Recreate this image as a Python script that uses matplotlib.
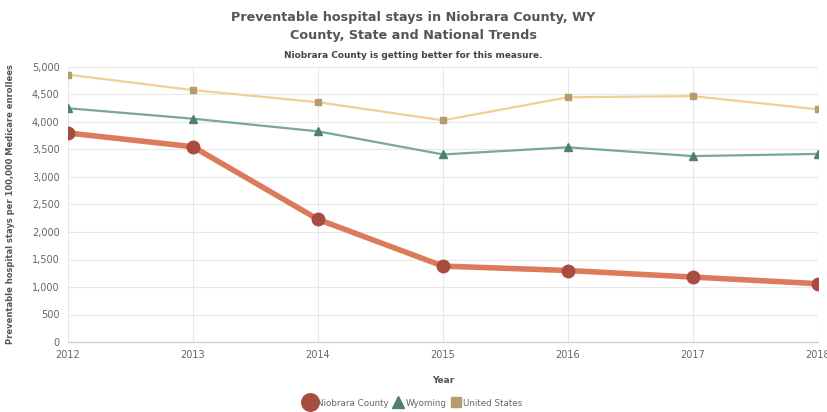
import matplotlib.pyplot as plt
from matplotlib.ticker import FuncFormatter

years = [2012, 2013, 2014, 2015, 2016, 2017, 2018]
niobrara = [3800, 3550, 2230, 1380, 1300, 1180, 1060]
wyoming = [4250, 4060, 3830, 3410, 3540, 3380, 3420]
united_states = [4860, 4580, 4360, 4030, 4450, 4470, 4230]

fig = plt.figure(figsize=(8.27, 4.12), dpi=100)
ax = fig.add_axes([68 / 827, 1 - 342 / 412, 750 / 827, 275 / 412])

ax.plot(years, united_states, color="#f3cf96", lw=1.6, marker="s", ms=5,
        mfc="#b59c6e", mec="#b59c6e", label="United States", zorder=3)
ax.plot(years, wyoming, color="#79a893", lw=1.6, marker="^", ms=6,
        mfc="#4f8068", mec="#4f8068", label="Wyoming", zorder=3)
ax.plot(years, niobrara, color="#dc7a5c", lw=4, marker="o", ms=9,
        mfc="#a84c3f", mec="#a84c3f", label="Niobrara County", zorder=4)

ax.set_xlim(2012, 2018)
ax.set_ylim(0, 5000)
ax.set_xticks(years)
ax.set_yticks(range(0, 5001, 500))
ax.yaxis.set_major_formatter(FuncFormatter(lambda v, p: f"{int(v):,}"))
ax.grid(True, color="#e8e8e8", lw=0.8)
for s in ["top", "right", "left"]:
    ax.spines[s].set_visible(False)
ax.spines["bottom"].set_color("#cccccc")
ax.tick_params(length=0, labelsize=7, colors="#666666", pad=6)
ax.set_axisbelow(True)

ax.set_ylabel("Preventable hospital stays per 100,000 Medicare enrollees",
              fontsize=6, color="#555555", fontweight="bold", labelpad=12)
ax.set_xlabel("Year", fontsize=6.5, color="#555555", fontweight="bold", labelpad=11)

fig.text(0.5, 1 - 26 / 412, "Preventable hospital stays in Niobrara County, WY\nCounty, State and National Trends",
         ha="center", va="center", fontsize=9.2, fontweight="bold", color="#555555", linespacing=1.5)
fig.text(0.5, 1 - 56 / 412, "Niobrara County is getting better for this measure.",
         ha="center", va="center", fontsize=6.4, fontweight="bold", color="#444444")

handles, labels = ax.get_legend_handles_labels()
fig.legend(handles[::-1], labels[::-1], loc="center", bbox_to_anchor=(0.5, 1 - 403 / 412),
           ncol=3, frameon=False, fontsize=6.3, handlelength=1.2, columnspacing=0.5,
           handletextpad=0.2, labelcolor="#666666", markerscale=1.4)
leg = fig.legends[0]
for h in leg.legend_handles:
    h.set_linestyle("none")

fig.savefig("out.png", dpi=100)
